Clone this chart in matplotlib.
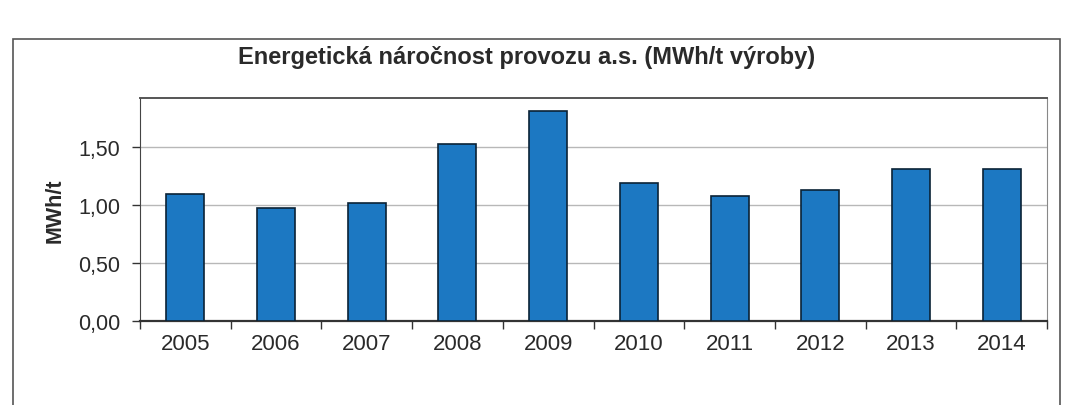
import matplotlib.pyplot as plt
import matplotlib.patches as mpatches
import numpy as np

plt.rcParams['font.family'] = ['Liberation Sans', 'DejaVu Sans']

# Data
years = ["2005", "2006", "2007", "2008", "2009", "2010", "2011", "2012", "2013", "2014"]
values = [1.09, 0.97, 1.02, 1.52, 1.81, 1.19, 1.08, 1.13, 1.31, 1.31]
yticks = [0.0, 0.5, 1.0, 1.5]
ytick_labels = ["0,00", "0,50", "1,00", "1,50"]

fig = plt.figure(figsize=(10.68, 4.06), dpi=100)

# outer chart frame (scanned border)
frame = mpatches.Rectangle((13 / 1068, -0.1), 1047 / 1068, 1.1 - 40 / 406,
                           transform=fig.transFigure, fill=False,
                           edgecolor="#555555", linewidth=1.2)
fig.patches.append(frame)

ax = fig.add_axes([140 / 1068, 1 - 322 / 406, (1047 - 140) / 1068, (322 - 99) / 406])

x = np.arange(len(years))
ax.bar(x, values, width=0.42, color="#1c78c2", edgecolor="#0b2236", linewidth=1.2, zorder=3)

ax.set_xlim(-0.5, len(years) - 0.5)
ax.set_ylim(0, 1.92)
ax.set_yticks(yticks)
ax.set_yticklabels(ytick_labels)
ax.set_xticks(x)
ax.set_xticklabels(years)
ax.set_xticks(np.arange(-0.5, len(years)), minor=True)
ax.tick_params(axis="x", which="major", length=0, labelsize=16, pad=9)
ax.tick_params(axis="x", which="minor", length=6, width=1.0, direction="out", color="#333333")
ax.tick_params(axis="y", length=6, width=1.0, direction="out", labelsize=15.5, pad=8, color="#333333")
for lab in ax.get_xticklabels() + ax.get_yticklabels():
    lab.set_color("#2a2a2a")

ax.grid(axis="y", color="#b8b8b8", linewidth=1.0, zorder=0)
ax.spines["top"].set_color("#555555")
ax.spines["top"].set_linewidth(1.4)
ax.spines["right"].set_color("#888888")
ax.spines["left"].set_color("#444444")
ax.spines["bottom"].set_color("#333333")
ax.spines["bottom"].set_linewidth(1.6)

ax.set_ylabel("MWh/t", fontsize=15.5, fontweight="bold", color="#2a2a2a", labelpad=9)

fig.text(527 / 1068, 1 - 58 / 406, "Energetická náročnost provozu a.s. (MWh/t výroby)",
         ha="center", va="center", fontsize=17, fontweight="bold", color="#2a2a2a")

plt.savefig("out.png", dpi=100)
